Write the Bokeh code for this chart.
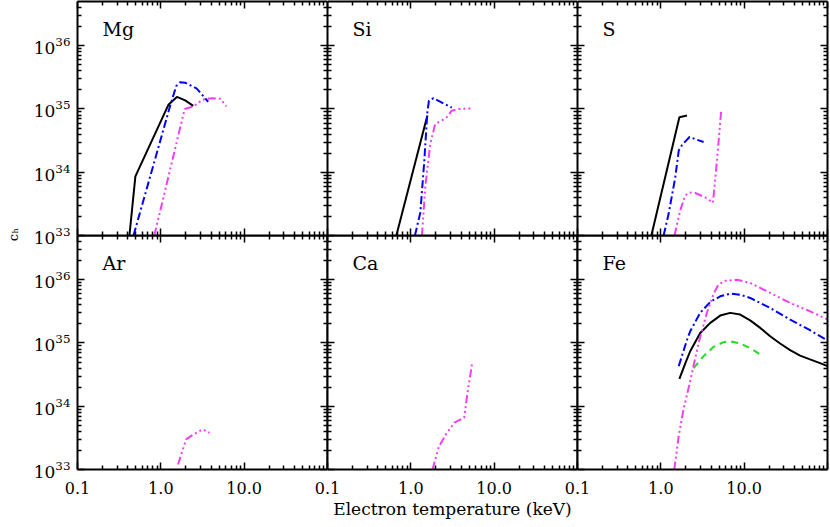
from bokeh.plotting import figure
from bokeh.layouts import row, column
from bokeh.models import FixedTicker, LogAxis, CustomJSTickFormatter, LogTickFormatter, Label
from bokeh.embed import file_html
from bokeh.resources import INLINE

# ---------------- data ----------------
panel_names = ["Mg", "Si", "S", "Ar", "Ca", "Fe"]

mg_black_x = [0.42, 0.495, 1.24, 1.56, 1.96, 2.45]
mg_black_y = [1.0e33, 8.6e33, 1.18e35, 1.55e35, 1.37e35, 1.12e35]
mg_blue_x = [0.47, 1.30, 1.53, 1.70, 1.96, 2.7, 3.7]
mg_blue_y = [1.0e33, 1.15e35, 2.3e35, 2.65e35, 2.6e35, 2.1e35, 1.3e35]
mg_mag_x = [0.835, 1.93, 2.47, 3.15, 4.1, 5.2, 6.1]
mg_mag_y = [1.0e33, 1.0e35, 1.1e35, 1.4e35, 1.48e35, 1.45e35, 1.1e35]

si_black_x = [0.67, 1.58]
si_black_y = [1.0e33, 7.9e34]
si_blue_x = [1.12, 1.30, 1.45, 1.58, 1.65, 1.87, 3.1]
si_blue_y = [1.0e33, 2.3e33, 1.5e34, 9.0e34, 1.35e35, 1.48e35, 1.05e35]
si_mag_x = [1.36, 1.49, 1.71, 1.96, 2.36, 2.7, 3.1, 3.74, 5.2]
si_mag_y = [1.0e33, 5.8e33, 2.8e34, 5.8e34, 6.6e34, 7.4e34, 9.4e34, 1.0e35, 1.02e35]

s_black_x = [0.77, 1.67, 2.06]
s_black_y = [1.0e33, 7.4e34, 7.9e34]
s_blue_x = [1.08, 1.24, 1.49, 1.64, 1.80, 2.21, 3.26]
s_blue_y = [1.0e33, 2.2e33, 8.3e33, 2.2e34, 2.7e34, 3.6e34, 3.0e34]
s_mag_x = [1.46, 1.71, 1.96, 2.21, 2.59, 3.41, 4.22, 4.71, 5.3]
s_mag_y = [1.0e33, 2.5e33, 4.3e33, 4.8e33, 4.7e33, 4.0e33, 3.3e33, 1.5e34, 9.4e34]

ar_mag_x = [1.61, 2.01, 2.47, 3.19, 3.84]
ar_mag_y = [1.2e33, 3.0e33, 3.6e33, 4.3e33, 3.8e33]

ca_mag_x = [1.82, 2.17, 2.67, 3.34, 4.36, 4.84, 5.46]
ca_mag_y = [1.0e33, 2.3e33, 3.7e33, 5.5e33, 6.6e33, 1.8e34, 4.9e34]

fe_black_x = [1.67, 1.96, 2.25, 2.97, 3.92, 5.16, 6.8, 8.96, 11.8, 15.6, 20.5, 27, 35.6, 46.9, 61.7, 81.3, 100]
fe_black_y = [2.7e34, 4.7e34, 7.4e34, 1.44e35, 2.08e35, 2.71e35, 2.99e35, 2.81e35, 2.28e35, 1.73e35,
              1.28e35, 9.8e34, 7.7e34, 6.3e34, 5.5e34, 4.8e34, 4.3e34]
fe_blue_x = [1.64, 2.06, 2.25, 2.97, 3.92, 5.16, 6.8, 8.96, 11.8, 20.5, 35.6, 61.7, 100]
fe_blue_y = [4.3e34, 1.12e35, 1.53e35, 3.0e35, 4.46e35, 5.47e35, 6.03e35, 5.8e35, 5.15e35, 3.58e35,
             2.34e35, 1.59e35, 1.1e35]
fe_mag_x = [1.45, 1.64, 1.87, 2.25, 2.84, 3.57, 4.3, 4.92, 5.9, 8.2, 11.8, 20.5, 35.6, 61.7, 100]
fe_mag_y = [1.0e33, 3.4e33, 8.9e33, 2.5e34, 1.0e35, 3.0e35, 6.0e35, 8.4e35, 9.6e35, 1.0e36, 8.9e35,
            6.2e35, 4.3e35, 3.17e35, 2.35e35]
fe_green_x = [2.47, 3.26, 4.3, 5.65, 6.8, 8.96, 11.8, 16.4]
fe_green_y = [4.0e34, 6.2e34, 8.7e34, 1.03e35, 1.06e35, 9.8e34, 8.3e34, 6.3e34]

x_tick_values = [0.1, 1, 10, 100]
x_tick_labels = ["0.1", "1.0", "10.0", ""]
y_tick_values = [1e33, 1e34, 1e35, 1e36]

X_RANGE = (0.1, 100)
Y_RANGE = (1e33, 5e36)

# ---------------- styles ----------------
BLACK = dict(line_color="black", line_width=2)
BLUE = dict(line_color="#0000ff", line_width=2, line_dash="8 3 2 3")
MAG = dict(line_color="#f040f0", line_width=2, line_dash="8 3 2 3 2 3 2 3")
GREEN = dict(line_color="#22dd22", line_width=2, line_dash="7 5")

series = {
    "Mg": [(mg_black_x, mg_black_y, BLACK), (mg_blue_x, mg_blue_y, BLUE), (mg_mag_x, mg_mag_y, MAG)],
    "Si": [(si_black_x, si_black_y, BLACK), (si_blue_x, si_blue_y, BLUE), (si_mag_x, si_mag_y, MAG)],
    "S": [(s_black_x, s_black_y, BLACK), (s_blue_x, s_blue_y, BLUE), (s_mag_x, s_mag_y, MAG)],
    "Ar": [(ar_mag_x, ar_mag_y, MAG)],
    "Ca": [(ca_mag_x, ca_mag_y, MAG)],
    "Fe": [(fe_green_x, fe_green_y, GREEN), (fe_black_x, fe_black_y, BLACK),
           (fe_blue_x, fe_blue_y, BLUE), (fe_mag_x, fe_mag_y, MAG)],
}

SERIF = "DejaVu Serif"
YLAB_W = 30
FW, FH = 250, 234
LEFT_B, TOP_B, BOT_OVL, BOT_B, OVL_X = 47, 1, 14, 56, 16

x_minor = [m * 10.0 ** e for e in (-1, 0, 1) for m in range(2, 10)]
y_minor = [m * 10.0 ** e for e in (33, 34, 35, 36) for m in range(2, 10)]

blank = "return '';"
x_fmt_code = ("const v = %s; const l = %s; for (let i = 0; i < v.length; i++) "
              "{ if (Math.abs(Math.log10(tick) - Math.log10(v[i])) < 1e-6) return l[i]; } return '';") % (
    str(x_tick_values), str(x_tick_labels).replace("'", '"'))


def style_axis(ax, is_x, show):
    ax.ticker = FixedTicker(ticks=x_tick_values if is_x else y_tick_values,
                            minor_ticks=x_minor if is_x else y_minor)
    ax.axis_line_width = 2
    ax.axis_line_color = "black"
    ax.major_tick_in = 7
    ax.major_tick_out = 0
    ax.minor_tick_in = 4
    ax.minor_tick_out = 0
    ax.major_tick_line_width = 1.5
    ax.minor_tick_line_width = 1.5
    ax.major_tick_line_color = "black"
    ax.minor_tick_line_color = "black"
    if show:
        ax.major_label_text_font = SERIF
        ax.major_label_text_color = "black"
        if is_x:
            ax.formatter = CustomJSTickFormatter(code=x_fmt_code)
            ax.major_label_text_font_size = "16px"
            ax.major_label_standoff = 12
        else:
            ax.formatter = LogTickFormatter()
            ax.major_label_text_font_size = "17px"
            ax.major_label_standoff = 7
    else:
        ax.formatter = CustomJSTickFormatter(code=blank)
        ax.major_label_text_font_size = "0px"
        ax.major_label_standoff = 0


def make_panel(idx):
    name = panel_names[idx]
    r, c = divmod(idx, 3)
    lb = LEFT_B if c == 0 else (0 if r == 0 else OVL_X)
    rb = 2 if c == 2 else 0
    tb = TOP_B if r == 0 else 0
    bb = BOT_OVL if r == 0 else BOT_B
    p = figure(width=lb + FW + rb, height=tb + FH + bb,
               x_axis_type="log", y_axis_type="log",
               x_range=X_RANGE, y_range=Y_RANGE,
               output_backend="svg", toolbar_location=None,
               min_border_left=lb, min_border_right=rb,
               min_border_top=tb, min_border_bottom=bb,
               border_fill_color=None, background_fill_color=None,
               outline_line_color=None)
    p.xgrid.visible = False
    p.ygrid.visible = False
    p.add_layout(LogAxis(), "above")
    p.add_layout(LogAxis(), "right")
    style_axis(p.below[0], True, r == 1)
    style_axis(p.above[0], True, False)
    style_axis(p.left[0], False, c == 0)
    style_axis(p.right[0], False, False)
    if r == 1 and c == 1:
        ax = p.below[0]
        ax.axis_label = "Electron temperature (keV)"
        ax.axis_label_text_font = SERIF
        ax.axis_label_text_font_size = "17px"
        ax.axis_label_text_font_style = "normal"
        ax.axis_label_text_color = "black"
        ax.axis_label_standoff = 2
    for xs, ys, st in series[name]:
        p.line(xs, ys, **st)
    p.add_layout(Label(x=0.1995, y=1.87e36, text=name, text_font=SERIF,
                       text_font_size="19px", text_baseline="alphabetic",
                       text_color="black"))
    margin_top = -BOT_OVL if r == 1 else 0
    margin_left = -OVL_X if (r == 1 and c > 0) else 0
    p.margin = (margin_top, 0, 0, margin_left)
    return p


panels = [make_panel(i) for i in range(6)]
total_h = (TOP_B + FH + BOT_OVL) + (FH + BOT_B) - BOT_OVL

ylab = figure(width=YLAB_W, height=total_h, x_range=(0, YLAB_W), y_range=(0, total_h),
              output_backend="svg", toolbar_location=None,
              x_axis_location=None, y_axis_location=None,
              min_border=0, outline_line_color=None,
              border_fill_color=None, background_fill_color=None)
ylab.xgrid.visible = False
ylab.ygrid.visible = False
ylab.add_layout(Label(x=13, y=total_h - 237, text="c", angle=1.5708,
                      text_font=SERIF, text_font_size="13px",
                      text_align="center", text_baseline="alphabetic", text_color="black"))
ylab.add_layout(Label(x=14.5, y=total_h - 230.5, text="h", angle=1.5708,
                      text_font=SERIF, text_font_size="8px",
                      text_align="center", text_baseline="alphabetic", text_color="black"))

layout = row(ylab, column(row(*panels[:3]), row(*panels[3:])))

open("out.html", "w").write(file_html(layout, INLINE))
